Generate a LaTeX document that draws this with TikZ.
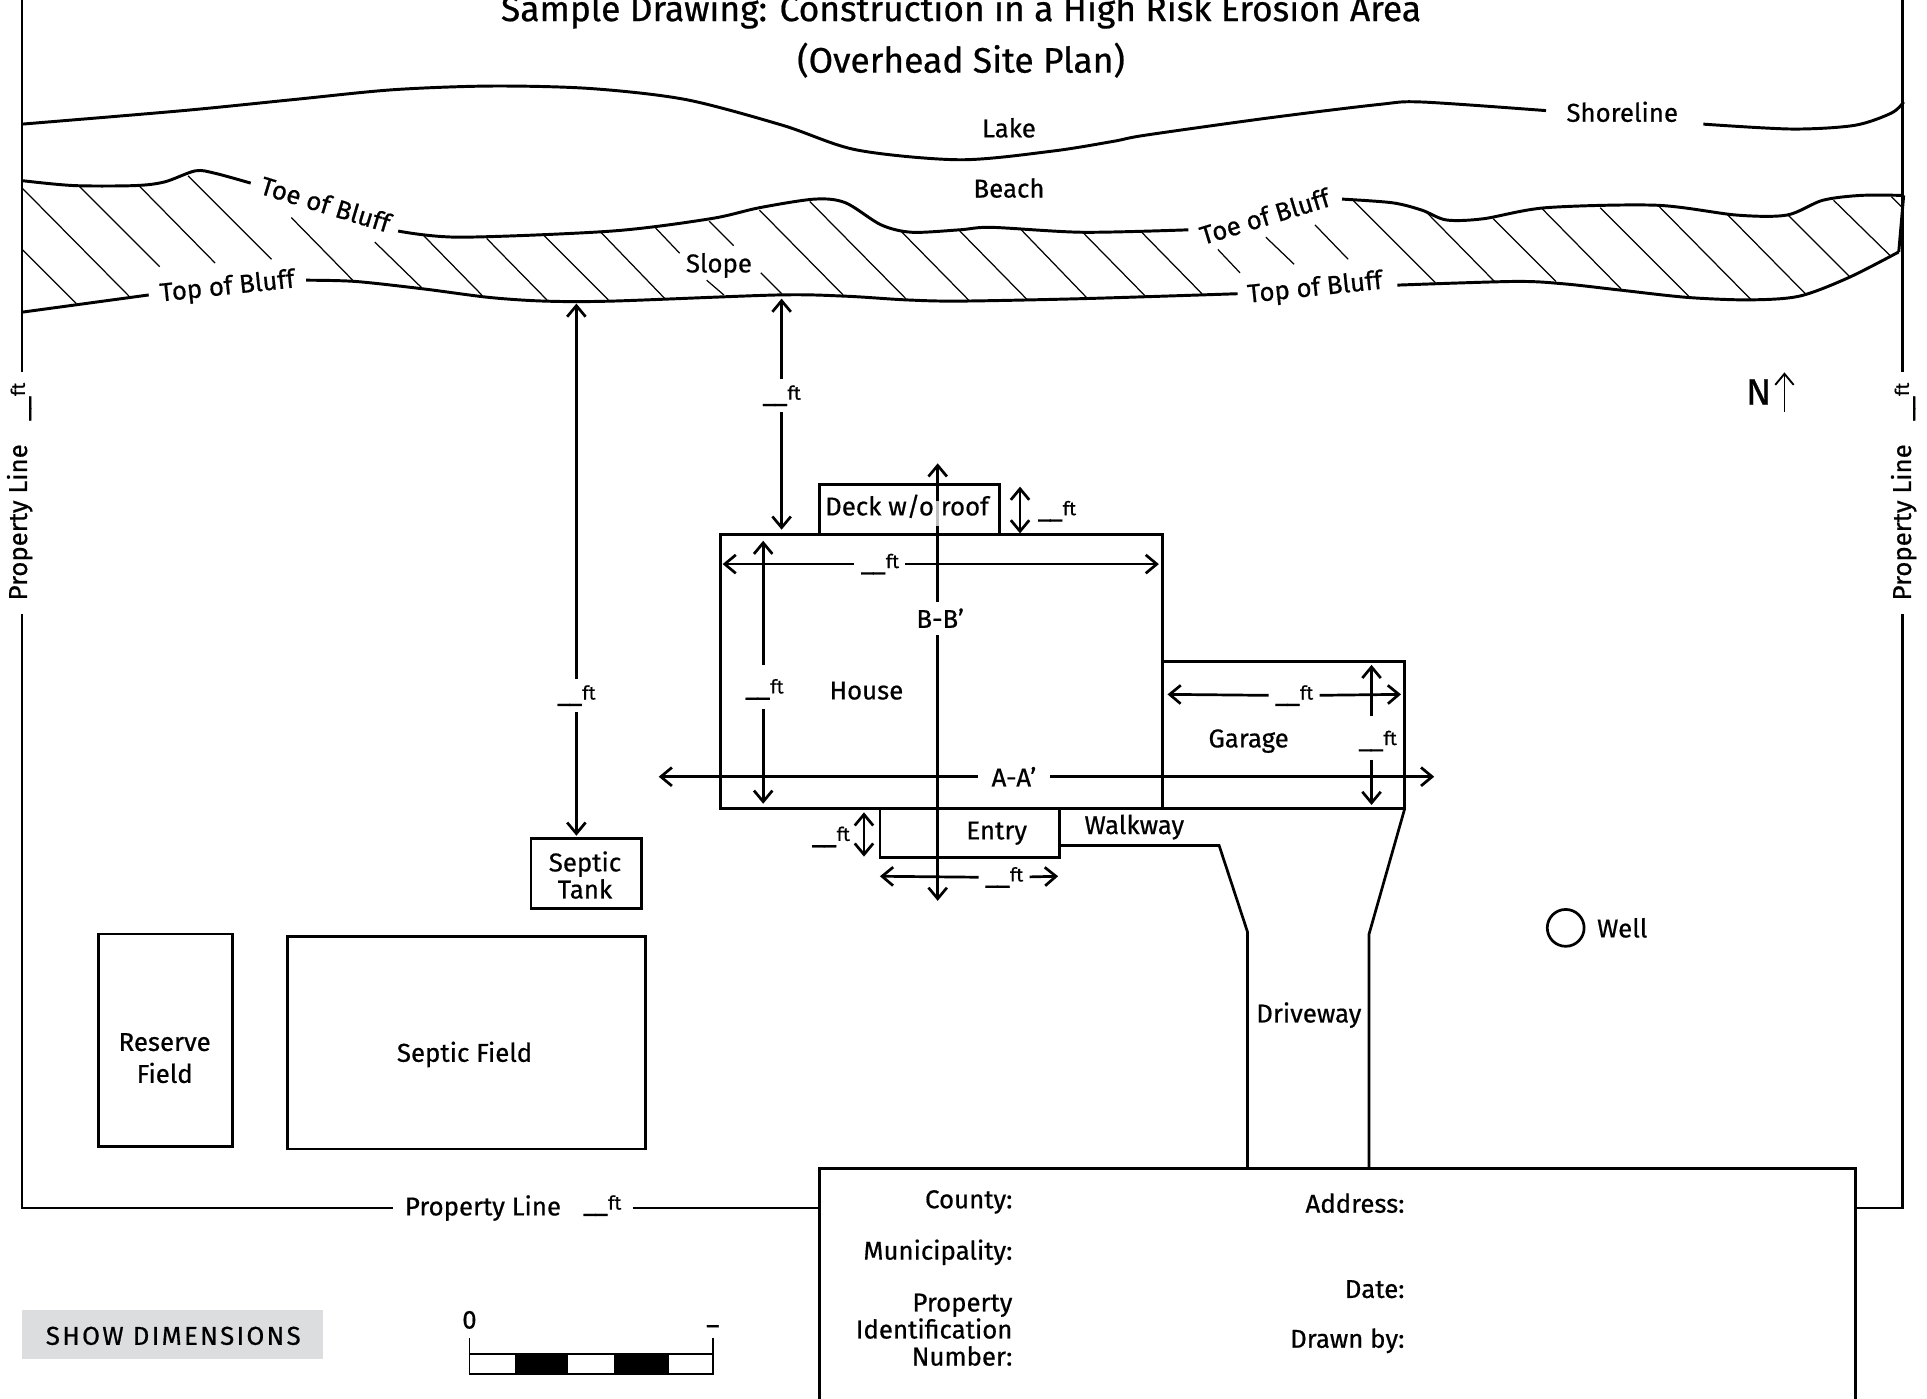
\documentclass[tikz,border=0pt]{standalone}
\usepackage{fontspec}
\setmainfont{Fira Sans}[RawFeature={embolden=0.6}]
\usepackage{xcolor}
\usepackage{tikz}
\usetikzlibrary{arrows.meta}

\definecolor{btngray}{HTML}{DCDDDE}
\newcommand{\ftmark}{\_\kern-1.5pt\_\raisebox{.2ex}{\fontsize{15.5}{15}\selectfont ft}}
\tikzset{
  >={Straight Barb[length=9pt,width=15pt]},
  lbl/.style={inner sep=5pt,font=\fontsize{21}{24}\selectfont},
  dim/.style={line width=2.2pt},
  wall/.style={line width=2.2pt},
  hatch/.style={line width=1pt},
  bank/.style={line width=2.4pt}
}

\begin{document}
\begin{tikzpicture}[x=1pt,y=-1pt]
\useasboundingbox (0,0) rectangle (1568,1138);

\node (title) at (782,9) [lbl,font=\fontsize{28.8}{30}\selectfont] {Sample Drawing: Construction in a High Risk Erosion Area};
\node (subtitle) at (782,49) [lbl,font=\fontsize{28.8}{30}\selectfont] {(Overhead Site Plan)};

\draw[bank] plot[smooth,tension=.5] coordinates {(18,101) (149,90) (239,81) (320,73) (400,70) (480,72) (558,81) (637,102) (697,122) (781,130) (856,123) (906,115) (932,110) (1032,96) (1122,85) (1157,83) (1258,90)};
\draw[bank] plot[smooth,tension=.5] coordinates {(1386,101) (1458,105) (1509,102) (1539,92) (1549,83)};
\node (shoreline) at (1320,91) [lbl] {Shoreline};
\node (lake) at (821,104) [lbl] {Lake};
\node (beach) at (821,153) [lbl] {Beach};

\draw[bank] plot[smooth,tension=.5] coordinates {(18,147) (60,151) (110,151) (134,148) (159,139) (175,141) (204,149)};
\draw[bank] plot[smooth,tension=.5] coordinates {(324,188) (374,193) (498,188) (578,178) (618,169) (663,162) (688,165) (717,183) (742,189) (781,187) (807,185) (881,189) (967,187)};
\draw[bank] plot[smooth,tension=.5] coordinates {(1092,162) (1133,165) (1157,171) (1177,179) (1207,178) (1258,169) (1348,167) (1413,175) (1454,175) (1483,163) (1514,159) (1549,159)};
\draw[bank] (1549,159) -- (1545,205);
\draw[bank] (18,254) -- (121,240);
\draw[bank] plot[smooth,tension=.5] coordinates {(249,228) (289,229) (344,235) (398,242) (443,245) (498,245) (633,240) (688,241) (737,244) (781,245) (881,243) (1007,239)};
\draw[bank] plot[smooth,tension=.5] coordinates {(1137,232) (1233,229) (1273,231) (1318,236) (1373,242) (1423,244) (1464,241) (1504,226) (1545,205)};

\foreach \xa/\ya/\xb/\yb in {18/153/105/241,18/203/62/247,64/151/130/217,113/151/175/214,153/143/221/211,237/177/288/229,305/197/343/234,345/192/392/240,396/194/445/244,442/191/495/244,488/188/541/243,533/185/553/206,577/180/597/200,575/228/589/240,619/222/636/239,618/171/686/240,659/164/737/243,733/188/789/245,781/188/836/244,831/187/885/243,880/188/932/241,929/189/978/239,991/203/1009/222,1030/193/1053/215,1070/183/1097/211,1101/163/1168/230,1160/172/1216/229,1215/178/1266/229,1255/170/1319/235,1302/169/1374/241,1350/168/1425/244,1405/174/1469/239,1455/175/1505/225,1492/163/1538/208,1539/160/1547/168}
  \draw[hatch] (\xa,\ya) -- (\xb,\yb);

\node (toeW) at (265,166) [lbl,rotate=-17] {Toe of Bluff};
\node (topW) at (185,234) [lbl,rotate=6] {Top of Bluff};
\node (slope) at (585,216) [lbl] {Slope};
\node (toeE) at (1029,176) [lbl,rotate=17] {Toe of Bluff};
\node (topE) at (1070,235) [lbl,rotate=6] {Top of Bluff};

\draw[wall] (18,0) -- (18,303);
\draw[wall] (18,500) -- (18,983) -- (320,983);
\draw[wall] (515,983) -- (667,983);
\draw[wall] (1548,0) -- (1548,303);
\draw[wall] (1548,500) -- (1548,983) -- (1510,983);
\node (ftW) at (17,327) [lbl,rotate=90] {\ftmark};
\node (lineW) at (16,425) [lbl,rotate=90] {Property Line};
\node (ftE) at (1550,327) [lbl,rotate=90] {\ftmark};
\node (lineE) at (1549,425) [lbl,rotate=90] {Property Line};
\node (lineS) at (393,983) [lbl] {Property Line};
\node (ftS) at (490,981) [lbl] {\ftmark};

\draw[wall] (667,394) rectangle (813,435);
\draw[wall] (586,435) rectangle (946,658);
\draw[wall] (946,538) rectangle (1143,658);
\draw[wall] (716,658) rectangle (862,698);
\draw[wall] (432,682) rectangle (522,739);
\draw[wall] (80,760) rectangle (189,933);
\draw[wall] (234,762) rectangle (525,935);
\draw[wall] (862,688) -- (992,688) -- (1015,758) -- (1015,951);
\draw[wall] (1143,658) -- (1114,760) -- (1114,951);
\draw[wall] (1274,755) circle[radius=15];

\node (deck) at (738,412) [lbl] {Deck w/o roof};
\node (house) at (705,562) [lbl] {House};
\node (garage) at (1016,603) [lbl] {Garage};
\node (entry) at (811,678) [lbl] {Entry};
\node (walkway) at (923,673) [lbl] {Walkway};
\node (driveway) at (1065,826) [lbl] {Driveway};
\node (tank) at (476,712) [lbl,align=center,font=\fontsize{21}{22}\selectfont] {Septic\\Tank};
\node (reserve) at (134,861) [lbl,align=center,font=\fontsize{21}{26}\selectfont] {Reserve\\Field};
\node (field) at (378,858) [lbl] {Septic Field};
\node (well) at (1320,755) [lbl] {Well};

\coordinate (bluffA) at (469,247);
\coordinate (tankTop) at (469,680);
\node (ftTank) at (469,566) [lbl] {\ftmark};
\draw[dim,->] (ftTank) -- (bluffA);
\draw[dim,->] (ftTank) -- (tankTop);

\coordinate (bluffB) at (636,243);
\coordinate (houseTop) at (636,431);
\node (ftHouse) at (636,322) [lbl] {\ftmark};
\draw[dim,->] (ftHouse) -- (bluffB);
\draw[dim,->] (ftHouse) -- (houseTop);

\coordinate (bbN) at (763,377);
\coordinate (bbS) at (763,733);
\node (bb) at (765,503) [lbl,inner sep=6pt] {B-B’};
\draw[dim,->] (763,490) -- (bbN);
\draw[dim,->] (763,517) -- (bbS);
\draw[line width=2.2pt,color=white!75!black] (763,408) -- (763,428);

\coordinate (aaW) at (536,632);
\coordinate (aaE) at (1167,632);
\node (aa) at (825,632) [lbl,inner sep=11pt] {A-A’};
\draw[dim,->] (aa) -- (aaW);
\draw[dim,->] (aa) -- (aaE);

\coordinate (houseW) at (588,459);
\coordinate (houseE) at (943,459);
\node (ftWidth) at (716,459) [lbl] {\ftmark};
\draw[dim,->] (ftWidth) -- (houseW);
\draw[dim,->] (ftWidth) -- (houseE);

\coordinate (houseN) at (621,440);
\coordinate (houseS) at (621,654);
\node (ftDepth) at (622,561) [lbl] {\ftmark};
\draw[dim,->] (621,541) -- (houseN);
\draw[dim,->] (621,577) -- (houseS);

\coordinate (deckN) at (830,396);
\coordinate (deckS) at (830,434);
\node (ftDeck) at (860,416) [lbl] {\ftmark};
\draw[dim,<->] (deckN) -- (deckS);

\coordinate (garageW) at (950,565);
\coordinate (garageE) at (1140,565);
\node (ftGarageW) at (1053,566) [lbl] {\ftmark};
\draw[dim,->] (ftGarageW) -- (garageW);
\draw[dim,->] (ftGarageW) -- (garageE);

\coordinate (garageN) at (1116,541);
\coordinate (garageS) at (1116,655);
\node (ftGarageD) at (1121,603) [lbl] {\ftmark};
\draw[dim,->] (1116,583) -- (garageN);
\draw[dim,->] (1116,618) -- (garageS);

\coordinate (entryN) at (703,661);
\coordinate (entryS) at (703,697);
\node (ftEntryD) at (676,681) [lbl] {\ftmark};
\draw[dim,<->] (entryN) -- (entryS);

\coordinate (entryW) at (716,713);
\coordinate (entryE) at (861,713);
\node (ftEntryW) at (817,714) [lbl] {\ftmark};
\draw[dim,->] (ftEntryW) -- (entryW);
\draw[dim,->] (ftEntryW) -- (entryE);

\coordinate (northS) at (1452,335);
\coordinate (northN) at (1452,303);
\node (north) at (1431,319) [lbl,font=\fontsize{30}{32}\selectfont] {N};
\draw[line width=1.5pt,->] (northS) -- (northN);

\draw[wall] (667,1140) -- (667,951) -- (1510,951) -- (1510,1140);
\node (county) at (824,978) [lbl,anchor=east,inner sep=0pt] {County:};
\node (muni) at (824,1019) [lbl,anchor=east,inner sep=0pt] {Municipality:};
\node (parcel) at (824,1082) [lbl,anchor=east,inner sep=0pt,align=right,font=\fontsize{21}{22}\selectfont] {Property\\Identification\\Number:};
\node (address) at (1143,979) [lbl,anchor=east,inner sep=0pt] {Address:};
\node (date) at (1143,1049) [lbl,anchor=east,inner sep=0pt] {Date:};
\node (drawn) at (1143,1091) [lbl,anchor=east,inner sep=0pt] {Drawn by:};

\fill[btngray] (18,1066) rectangle (263,1106);
\node (show) at (141,1087) [lbl] {\addfontfeature{LetterSpace=9}SHOW DIMENSIONS};

\node (zero) at (382,1074) [lbl] {0};
\node (dash) at (580,1082) [lbl] {–};
\draw[line width=1.5pt] (382,1089) -- (382,1118) -- (580,1118) -- (580,1089);
\draw[line width=1.5pt] (382,1102) -- (580,1102);
\fill[black] (419,1102) rectangle (462,1118);
\fill[black] (500,1102) rectangle (544,1118);
\end{tikzpicture}
\end{document}
